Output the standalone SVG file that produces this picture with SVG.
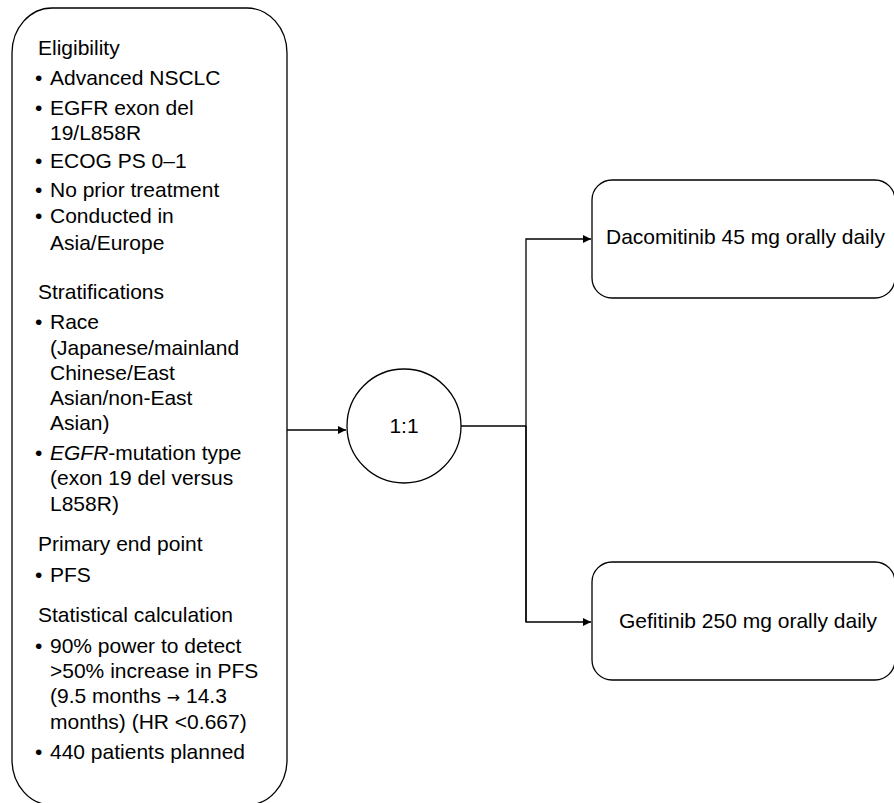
<svg xmlns="http://www.w3.org/2000/svg" width="894" height="803" viewBox="0 0 894 803">
<defs>
<style>
text{font-family:"Liberation Sans",Arial,sans-serif;font-size:21px;fill:#000}
.box{fill:#fff;stroke:#000;stroke-width:1.3}
.ln{fill:none;stroke:#000;stroke-width:1.3}
.sym{font-family:"DejaVu Sans",sans-serif;font-size:16px}
</style>
<marker id="arr" markerWidth="10" markerHeight="10" refX="9" refY="5" orient="auto" markerUnits="userSpaceOnUse">
<path d="M1,1 L9,5 L1,9 Z" fill="#000"/>
</marker>
</defs>
<rect width="894" height="803" fill="#fff"/>
<g id="connectors">
<line class="ln" x1="287" y1="430" x2="346" y2="430" marker-end="url(#arr)"/>
<polyline class="ln" points="461,426 526,426"/>
<polyline class="ln" points="526,622 526,239 591,239" marker-end="url(#arr)"/>
<polyline class="ln" points="526,426 526,622 591,622" marker-end="url(#arr)"/>
</g>
<g id="criteria">
<rect class="box" x="12" y="8" width="275" height="797" rx="40" ry="45"/>
<text x="38" y="55">Eligibility</text>
<text x="35" y="85">•</text><text x="50" y="85">Advanced NSCLC</text>
<text x="35" y="115">•</text><text x="50" y="115">EGFR exon del</text>
<text x="50" y="140">19/L858R</text>
<text x="35" y="168">•</text><text x="50" y="168">ECOG PS 0–1</text>
<text x="35" y="197">•</text><text x="50" y="197">No prior treatment</text>
<text x="35" y="223">•</text><text x="50" y="223">Conducted in</text>
<text x="50" y="250">Asia/Europe</text>
<text x="38" y="299">Stratifications</text>
<text x="35" y="329">•</text><text x="50" y="329">Race</text>
<text x="50" y="355">(Japanese/mainland</text>
<text x="50" y="380">Chinese/East</text>
<text x="50" y="405">Asian/non-East</text>
<text x="50" y="430">Asian)</text>
<text x="35" y="460">•</text><text x="50" y="460"><tspan font-style="italic">EGFR</tspan>-mutation type</text>
<text x="50" y="485">(exon 19 del versus</text>
<text x="50" y="511">L858R)</text>
<text x="38" y="551">Primary end point</text>
<text x="35" y="582">•</text><text x="50" y="582">PFS</text>
<text x="38" y="622">Statistical calculation</text>
<text x="35" y="653">•</text><text x="50" y="653">90% power to detect</text>
<text x="50" y="678">&gt;50% increase in PFS</text>
<text x="50" y="703">(9.5 months <tspan class="sym">→</tspan> 14.3</text>
<text x="50" y="729">months) (HR &lt;0.667)</text>
<text x="35" y="759">•</text><text x="50" y="759">440 patients planned</text>
</g>
<g id="randomisation">
<circle class="box" cx="404" cy="426" r="57"/>
<text x="404" y="433" text-anchor="middle">1:1</text>
</g>
<g id="dacomitinib">
<rect class="box" x="592" y="180" width="303" height="118" rx="20"/>
<text x="606" y="244">Dacomitinib 45 mg orally daily</text>
</g>
<g id="gefitinib">
<rect class="box" x="592" y="562" width="303" height="118" rx="20"/>
<text x="619" y="628">Gefitinib 250 mg orally daily</text>
</g>
</svg>
